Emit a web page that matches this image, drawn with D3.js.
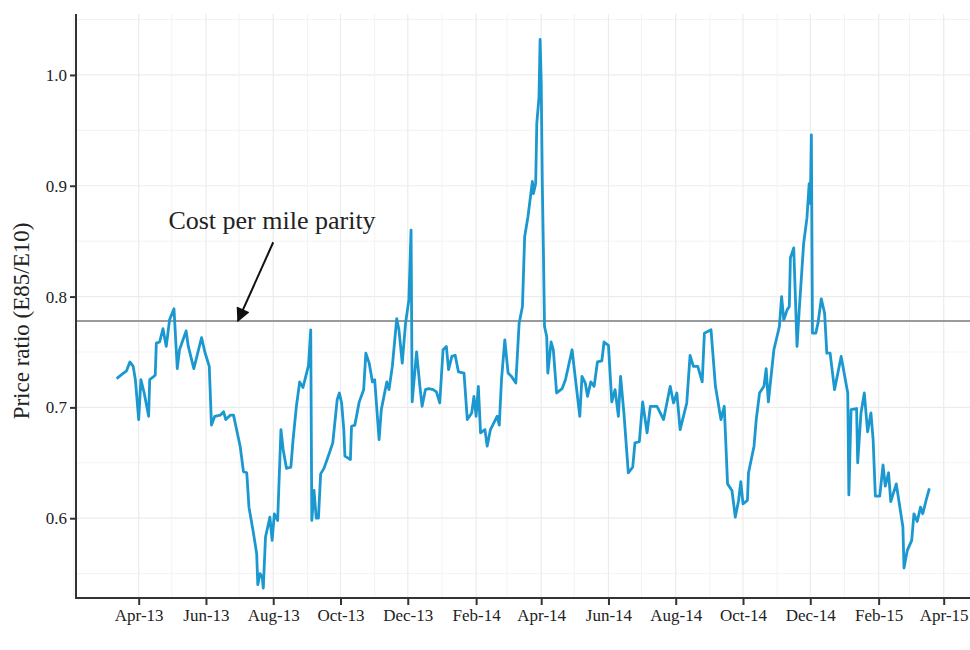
<!DOCTYPE html>
<html>
<head>
<meta charset="utf-8">
<script src="https://cdn.jsdelivr.net/npm/d3@7"></script>
<style>
  html, body { margin: 0; padding: 0; background: #fff; }
  svg { display: block; }
  text { font-family: "Liberation Serif", "Times New Roman", serif; fill: #222; }
</style>
</head>
<body>
<svg id="chart" width="970" height="650"></svg>
<script>
// E85 / E10 retail price ratio, daily observations (sampled)
const dates = [
  "2013-03-12","2013-03-17","2013-03-21","2013-03-24","2013-03-27","2013-03-29","2013-04-01","2013-04-03","2013-04-06","2013-04-10",
  "2013-04-11","2013-04-16","2013-04-17","2013-04-20","2013-04-23","2013-04-26","2013-04-29","2013-05-03","2013-05-06","2013-05-08",
  "2013-05-14","2013-05-16","2013-05-21","2013-05-28","2013-05-31","2013-06-04","2013-06-06","2013-06-09","2013-06-14","2013-06-17",
  "2013-06-19","2013-06-23","2013-06-26","2013-07-02","2013-07-05","2013-07-08","2013-07-10","2013-07-14","2013-07-17","2013-07-18",
  "2013-07-20","2013-07-22","2013-07-23","2013-07-25","2013-07-29","2013-07-31","2013-08-02","2013-08-05","2013-08-08","2013-08-10",
  "2013-08-13","2013-08-17","2013-08-19","2013-08-22","2013-08-25","2013-08-28","2013-09-02","2013-09-04","2013-09-05","2013-09-07",
  "2013-09-09","2013-09-11","2013-09-13","2013-09-16","2013-09-21","2013-09-24","2013-09-28","2013-09-30","2013-10-02","2013-10-04",
  "2013-10-05","2013-10-10","2013-10-11","2013-10-14","2013-10-18","2013-10-22","2013-10-24","2013-10-27","2013-10-30","2013-11-01",
  "2013-11-05","2013-11-07","2013-11-12","2013-11-14","2013-11-17","2013-11-21","2013-11-23","2013-11-26","2013-11-29","2013-12-02",
  "2013-12-04","2013-12-05","2013-12-09","2013-12-12","2013-12-14","2013-12-17","2013-12-20","2013-12-24","2013-12-27","2013-12-30",
  "2014-01-02","2014-01-05","2014-01-07","2014-01-10","2014-01-13","2014-01-16","2014-01-21","2014-01-24","2014-01-28","2014-01-30",
  "2014-02-01","2014-02-03","2014-02-05","2014-02-09","2014-02-11","2014-02-14","2014-02-20","2014-02-22","2014-02-24","2014-02-27",
  "2014-03-02","2014-03-05","2014-03-09","2014-03-12","2014-03-15","2014-03-17","2014-03-20","2014-03-24","2014-03-25","2014-03-27",
  "2014-03-28","2014-03-30","2014-03-31","2014-04-01","2014-04-02","2014-04-03","2014-04-04","2014-04-06","2014-04-07","2014-04-10",
  "2014-04-12","2014-04-15","2014-04-20","2014-04-23","2014-04-29","2014-05-02","2014-05-06","2014-05-08","2014-05-11","2014-05-13",
  "2014-05-16","2014-05-19","2014-05-22","2014-05-26","2014-05-28","2014-06-01","2014-06-04","2014-06-07","2014-06-10","2014-06-12",
  "2014-06-15","2014-06-19","2014-06-23","2014-06-25","2014-06-29","2014-07-02","2014-07-06","2014-07-09","2014-07-15","2014-07-21",
  "2014-07-27","2014-07-30","2014-08-02","2014-08-05","2014-08-11","2014-08-14","2014-08-17","2014-08-21","2014-08-25","2014-08-27",
  "2014-09-02","2014-09-06","2014-09-11","2014-09-14","2014-09-17","2014-09-21","2014-09-24","2014-09-27","2014-09-29","2014-10-01",
  "2014-10-05","2014-10-06","2014-10-11","2014-10-13","2014-10-16","2014-10-20","2014-10-22","2014-10-24","2014-10-29","2014-11-03",
  "2014-11-05","2014-11-07","2014-11-10","2014-11-12","2014-11-13","2014-11-16","2014-11-19","2014-11-21","2014-11-25","2014-11-28",
  "2014-11-30","2014-12-01","2014-12-02","2014-12-03","2014-12-06","2014-12-08","2014-12-11","2014-12-14","2014-12-16","2014-12-19",
  "2014-12-23","2014-12-29","2015-01-04","2015-01-05","2015-01-07","2015-01-12","2015-01-13","2015-01-16","2015-01-19","2015-01-22",
  "2015-01-25","2015-01-27","2015-01-29","2015-02-02","2015-02-05","2015-02-07","2015-02-10","2015-02-12","2015-02-17","2015-02-23",
  "2015-02-24","2015-02-27","2015-03-03","2015-03-05","2015-03-08","2015-03-11","2015-03-13","2015-03-16","2015-03-19"
];
const ratio = [
  0.726,0.730,0.733,0.741,0.737,0.725,0.689,0.725,0.713,0.692,
  0.725,0.729,0.758,0.759,0.771,0.755,0.779,0.789,0.735,0.752,
  0.769,0.755,0.735,0.763,0.750,0.737,0.684,0.692,0.693,0.696,
  0.689,0.693,0.693,0.665,0.642,0.641,0.610,0.587,0.568,0.540,
  0.550,0.547,0.537,0.583,0.601,0.580,0.604,0.598,0.680,0.662,
  0.645,0.646,0.671,0.701,0.723,0.718,0.738,0.770,0.598,0.625,
  0.600,0.600,0.640,0.645,0.659,0.668,0.707,0.713,0.704,0.680,
  0.656,0.653,0.683,0.684,0.705,0.716,0.749,0.740,0.723,0.725,
  0.671,0.698,0.723,0.716,0.737,0.780,0.770,0.740,0.776,0.797,
  0.860,0.705,0.750,0.719,0.701,0.716,0.717,0.716,0.714,0.704,
  0.752,0.755,0.734,0.746,0.747,0.732,0.731,0.689,0.695,0.710,
  0.692,0.719,0.677,0.680,0.665,0.680,0.692,0.684,0.725,0.761,
  0.731,0.728,0.722,0.776,0.791,0.854,0.872,0.904,0.893,0.902,
  0.956,0.980,1.032,0.995,0.902,0.842,0.773,0.764,0.731,0.759,
  0.752,0.713,0.717,0.725,0.752,0.726,0.692,0.728,0.722,0.710,
  0.723,0.719,0.741,0.742,0.759,0.756,0.705,0.716,0.692,0.728,
  0.695,0.641,0.646,0.668,0.669,0.705,0.677,0.701,0.701,0.689,
  0.719,0.704,0.713,0.680,0.704,0.747,0.737,0.737,0.723,0.767,
  0.770,0.719,0.689,0.701,0.631,0.625,0.601,0.616,0.633,0.613,
  0.616,0.641,0.665,0.689,0.713,0.719,0.735,0.705,0.752,0.773,
  0.800,0.779,0.788,0.791,0.835,0.844,0.755,0.788,0.848,0.871,
  0.902,0.884,0.946,0.767,0.767,0.776,0.798,0.785,0.749,0.749,
  0.716,0.746,0.713,0.621,0.698,0.699,0.650,0.695,0.713,0.678,
  0.695,0.671,0.620,0.620,0.648,0.629,0.641,0.615,0.631,0.592,
  0.555,0.571,0.580,0.604,0.597,0.610,0.604,0.616,0.627
];
// Price ratio at which E85 and E10 cost the same per mile
const parityRatio = [0.778];
const parityLabel = ["Cost per mile parity"];
const yTicks = [0.6, 0.7, 0.8, 0.9, 1.0];
const yMinorTicks = [0.55, 0.65, 0.75, 0.85, 0.95, 1.05];
const xTickDates = ["2013-04-01","2013-06-01","2013-08-01","2013-10-01","2013-12-01","2014-02-01",
                    "2014-04-01","2014-06-01","2014-08-01","2014-10-01","2014-12-01","2015-02-01","2015-04-01"];
const xMinorDates = ["2013-02-01","2013-05-01","2013-07-01","2013-09-01","2013-11-01","2014-01-01","2014-03-01",
                     "2014-05-01","2014-07-01","2014-09-01","2014-11-01","2015-01-01","2015-03-01"];
const yTitle = ["Price ratio (E85/E10)"];

const parse = d3.utcParse("%Y-%m-%d");
const series = dates.map((d, i) => ({ date: parse(d), value: ratio[i] }));

const svg = d3.select("#chart");
const plotLeft = 76, plotRight = 970, plotTop = 14, plotBottom = 598;

// time domain padded by 5% of the data span on either side
const ext = d3.extent(series, d => d.date);
const pad = (ext[1] - ext[0]) * 0.05;
const x = d3.scaleUtc()
  .domain([new Date(+ext[0] - pad), new Date(+ext[1] + pad)])
  .range([plotLeft, plotRight]);
const y = d3.scaleLinear().domain([0.528, 1.055]).range([plotBottom, plotTop]);

// grid
const grid = svg.append("g");
grid.selectAll("line.hmin").data(yMinorTicks.filter(v => y(v) >= plotTop)).join("line")
  .attr("x1", plotLeft).attr("x2", plotRight).attr("y1", d => y(d)).attr("y2", d => y(d))
  .attr("stroke", "#f3f3f3").attr("stroke-width", 1);
grid.selectAll("line.hmaj").data(yTicks).join("line")
  .attr("x1", plotLeft).attr("x2", plotRight).attr("y1", d => y(d)).attr("y2", d => y(d))
  .attr("stroke", "#ececec").attr("stroke-width", 1.2);
grid.selectAll("line.vmin").data(xMinorDates.map(parse)).join("line")
  .attr("x1", d => x(d)).attr("x2", d => x(d)).attr("y1", plotTop).attr("y2", plotBottom)
  .attr("stroke", "#f3f3f3").attr("stroke-width", 1);
grid.selectAll("line.vmaj").data(xTickDates.map(parse)).join("line")
  .attr("x1", d => x(d)).attr("x2", d => x(d)).attr("y1", plotTop).attr("y2", plotBottom)
  .attr("stroke", "#ececec").attr("stroke-width", 1.2);

// parity reference line
svg.append("line")
  .attr("x1", plotLeft).attr("x2", plotRight)
  .attr("y1", y(parityRatio[0])).attr("y2", y(parityRatio[0]))
  .attr("stroke", "#9a9a9a").attr("stroke-width", 2);

// price ratio series
const line = d3.line().x(d => x(d.date)).y(d => y(d.value));
svg.append("path").datum(series)
  .attr("d", line)
  .attr("fill", "none")
  .attr("stroke", "#1b98cf")
  .attr("stroke-width", 2.8)
  .attr("stroke-linejoin", "round");

// axes
const yAxis = d3.axisLeft(y).tickValues(yTicks).tickFormat(d3.format(".1f")).tickSize(6).tickPadding(3);
const gy = svg.append("g").attr("transform", `translate(${plotLeft},0)`).call(yAxis);
const xAxis = d3.axisBottom(x).tickValues(xTickDates.map(parse))
  .tickFormat(d3.utcFormat("%b-%y")).tickSize(7).tickPadding(4);
const gx = svg.append("g").attr("transform", `translate(0,${plotBottom})`).call(xAxis);
[gx, gy].forEach(g => {
  g.select(".domain").remove();
  g.selectAll(".tick line").attr("stroke", "#333").attr("stroke-width", 2);
  g.selectAll(".tick text").attr("font-size", 17)
    .attr("font-family", "'Liberation Serif', serif").attr("fill", "#222");
});
svg.append("line").attr("x1", plotLeft).attr("x2", plotLeft).attr("y1", plotTop).attr("y2", plotBottom + 1)
  .attr("stroke", "#333").attr("stroke-width", 2);
svg.append("line").attr("x1", plotLeft - 1).attr("x2", plotRight).attr("y1", plotBottom).attr("y2", plotBottom)
  .attr("stroke", "#333").attr("stroke-width", 2);

// y-axis title
svg.append("text")
  .attr("transform", `translate(29,${(plotTop + plotBottom) / 2 + 15}) rotate(-90)`)
  .attr("text-anchor", "middle")
  .attr("font-size", 23)
  .text(yTitle[0]);

// annotation with arrow pointing at the parity line
const defs = svg.append("defs");
defs.append("marker").attr("id", "arrowhead")
  .attr("viewBox", "0 0 10 10").attr("refX", 9).attr("refY", 5)
  .attr("markerWidth", 9).attr("markerHeight", 7)
  .attr("markerUnits", "strokeWidth").attr("orient", "auto")
  .append("path").attr("d", "M0,0 L10,5 L0,10 z").attr("fill", "#111");

const arrowTip = { date: parse("2013-06-30"), value: parityRatio[0] };
svg.append("line")
  .attr("x1", x(parse("2013-08-01"))).attr("y1", y(0.849))
  .attr("x2", x(arrowTip.date)).attr("y2", y(arrowTip.value))
  .attr("stroke", "#111").attr("stroke-width", 2)
  .attr("marker-end", "url(#arrowhead)");
svg.append("text")
  .attr("x", 272).attr("y", 229)
  .attr("text-anchor", "middle")
  .attr("font-size", 26)
  .text(parityLabel[0]);
</script>
</body>
</html>
